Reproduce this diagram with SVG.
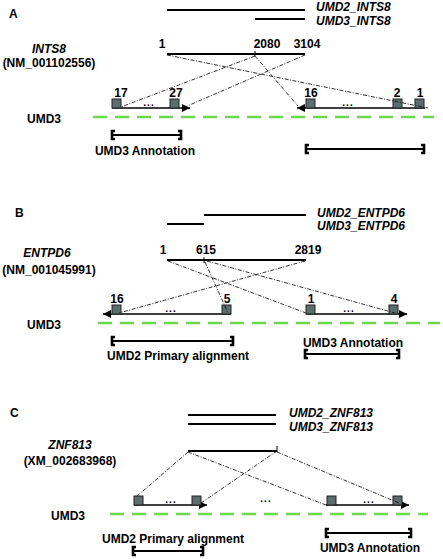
<svg xmlns="http://www.w3.org/2000/svg" width="443" height="559" viewBox="0 0 443 559">
<defs>
<marker id="ah" markerUnits="userSpaceOnUse" markerWidth="9" markerHeight="9" refX="8" refY="4.5" orient="auto">
<path d="M0,0.5 L8,4.5 L0,8.5 Z" fill="#000"/>
</marker>
</defs>
<style>
text{font-family:"Liberation Sans",Arial,sans-serif;font-size:12px;font-weight:bold;fill:#000}
.i{font-style:italic}
.m{text-anchor:middle}
.bar{stroke:#000;stroke-width:2.2;fill:none}
.gene{stroke:#000;stroke-width:2.2;fill:none}
.tick{stroke:#000;stroke-width:1;fill:none}
.ex{fill:#5d6c6c;stroke:#222;stroke-width:1}
.strand{stroke:#000;stroke-width:1.4;fill:none;marker-end:url(#ah)}
.chr{stroke:#6cd84c;stroke-width:2.6;stroke-dasharray:14 8;fill:none}
.dd{stroke:#1a1a1a;stroke-width:0.9;stroke-dasharray:4 1.5 1 1.5;fill:none}
.br{stroke:#000;stroke-width:1.8;fill:none}
.cap{stroke:#000;stroke-width:2.6;fill:none}
.dots{font-size:10px;font-weight:bold;letter-spacing:1px}
</style>

<!-- Panel A -->
<g id="panelA">
<text x="9" y="18">A</text>
<g id="A-alignments">
<line class="bar" x1="167" y1="10" x2="305" y2="10"/>
<line class="bar" x1="255" y1="19" x2="305" y2="19"/>
<text class="i" x="316" y="10.5">UMD2_INTS8</text>
<text class="i" x="316" y="24.5">UMD3_INTS8</text>
</g>
<g id="A-gene">
<text class="i m" x="49" y="52.5">INTS8</text>
<text class="m" x="49" y="67">(NM_001102556)</text>
<text class="m" x="162" y="48">1</text>
<text class="m" x="267" y="48">2080</text>
<text class="m" x="307" y="48">3104</text>
<line class="gene" x1="167" y1="54" x2="305" y2="54"/>
<line class="tick" x1="255" y1="51" x2="255" y2="56"/>
</g>
<g id="A-exons-left">
<line class="strand" x1="112" y1="108" x2="190" y2="108"/>
<rect class="ex" x="112" y="99" width="9" height="9"/>
<rect class="ex" x="170" y="99" width="9" height="9"/>
<text class="m" x="121" y="97">17</text>
<text class="m" x="176" y="97">27</text>
<text class="dots m" x="149" y="106">...</text>
</g>
<g id="A-exons-right">
<line class="strand" x1="425" y1="108" x2="297" y2="108"/>
<rect class="ex" x="306" y="99" width="9" height="9"/>
<rect class="ex" x="393" y="99" width="9" height="9"/>
<rect class="ex" x="415" y="99" width="9" height="9"/>
<text class="m" x="311" y="97">16</text>
<text class="m" x="397" y="97">2</text>
<text class="m" x="420" y="97">1</text>
<text class="dots m" x="348" y="106">...</text>
</g>
<g id="A-chr">
<text x="27" y="123">UMD3</text>
<line class="chr" x1="93" y1="117" x2="434" y2="117"/>
</g>
<g id="A-annot-left">
<line class="br" x1="112" y1="135" x2="181" y2="135"/>
<path class="cap" d="M115,131 H112 V139 H115 M178,131 H181 V139 H178"/>
<text class="m" x="145" y="155">UMD3 Annotation</text>
</g>
<g id="A-annot-right">
<line class="br" x1="306" y1="149" x2="424" y2="149"/>
<path class="cap" d="M309,145 H306 V153 H309 M421,145 H424 V153 H421"/>
</g>
</g>

<!-- Panel B -->
<g id="panelB">
<text x="15" y="217">B</text>
<g id="B-alignments">
<line class="bar" x1="204" y1="215" x2="306" y2="215"/>
<line class="bar" x1="167" y1="224" x2="204" y2="224"/>
<text class="i" x="317" y="217">UMD2_ENTPD6</text>
<text class="i" x="317" y="230">UMD3_ENTPD6</text>
</g>
<g id="B-gene">
<text class="i m" x="47" y="257">ENTPD6</text>
<text class="m" x="49" y="274">(NM_001045991)</text>
<text class="m" x="163" y="254">1</text>
<text class="m" x="206" y="254">615</text>
<text class="m" x="308" y="254">2819</text>
<line class="gene" x1="167" y1="260" x2="306" y2="260"/>
<line class="tick" x1="204" y1="257" x2="204" y2="263"/>
</g>
<g id="B-exons-left">
<line class="strand" x1="231" y1="314" x2="103" y2="314"/>
<rect class="ex" x="112" y="305" width="9" height="9"/>
<rect class="ex" x="222" y="305" width="9" height="9"/>
<text class="m" x="117" y="303">16</text>
<text class="m" x="227" y="303">5</text>
<text class="dots m" x="171" y="312">...</text>
</g>
<g id="B-exons-right">
<line class="strand" x1="306" y1="314" x2="407" y2="314"/>
<rect class="ex" x="306" y="305" width="9" height="9"/>
<rect class="ex" x="389" y="305" width="9" height="9"/>
<text class="m" x="311" y="303">1</text>
<text class="m" x="394" y="303">4</text>
<text class="dots m" x="349" y="312">...</text>
</g>
<g id="B-chr">
<text x="27" y="329">UMD3</text>
<line class="chr" x1="98" y1="323" x2="440" y2="323"/>
</g>
<g id="B-annot-left">
<line class="br" x1="112" y1="341" x2="233" y2="341"/>
<path class="cap" d="M115,337 H112 V345 H115 M230,337 H233 V345 H230"/>
<text class="m" x="178" y="360">UMD2 Primary alignment</text>
</g>
<g id="B-annot-right">
<text class="m" x="353" y="347">UMD3 Annotation</text>
<line class="br" x1="305" y1="354" x2="399" y2="354"/>
<path class="cap" d="M308,350 H305 V358 H308 M396,350 H399 V358 H396"/>
</g>
</g>

<!-- Panel C -->
<g id="panelC">
<text x="10" y="417">C</text>
<g id="C-alignments">
<line class="bar" x1="188" y1="415" x2="276" y2="415"/>
<line class="bar" x1="188" y1="424" x2="276" y2="424"/>
<text class="i" x="289" y="417">UMD2_ZNF813</text>
<text class="i" x="289" y="431">UMD3_ZNF813</text>
</g>
<g id="C-gene">
<text class="i m" x="70" y="449">ZNF813</text>
<text class="m" x="70" y="465">(XM_002683968)</text>
<line class="gene" x1="188" y1="451" x2="277" y2="451"/>
<line class="tick" x1="277" y1="446" x2="277" y2="452"/>
</g>
<g id="C-exons-left">
<line class="strand" x1="134" y1="505" x2="207" y2="505"/>
<rect class="ex" x="134" y="496" width="9" height="9"/>
<rect class="ex" x="192" y="496" width="9" height="9"/>
<text class="dots m" x="171" y="503">...</text>
</g>
<text class="dots m" x="266" y="502">...</text>
<g id="C-exons-right">
<line class="strand" x1="326" y1="505" x2="409" y2="505"/>
<rect class="ex" x="327" y="496" width="9" height="9"/>
<rect class="ex" x="393" y="496" width="9" height="9"/>
<text class="dots m" x="369" y="503">...</text>
</g>
<g id="C-chr">
<text x="51" y="520">UMD3</text>
<line class="chr" x1="110" y1="514" x2="428" y2="514"/>
</g>
<g id="C-annot-right">
<line class="br" x1="326" y1="533" x2="411" y2="533"/>
<path class="cap" d="M329,529 H326 V537 H329 M408,529 H411 V537 H408"/>
<text class="m" x="370" y="552">UMD3 Annotation</text>
</g>
<g id="C-annot-left">
<text class="m" x="173" y="543">UMD2 Primary alignment</text>
<line class="br" x1="133" y1="551" x2="203" y2="551"/>
<path class="cap" d="M136,547 H133 V555 H136 M200,547 H203 V555 H200"/>
</g>
</g>

<!-- Connectors -->
<g id="connectors">
<line class="dd" x1="167" y1="55" x2="428" y2="108"/>
<line class="dd" x1="255" y1="56" x2="121" y2="107"/>
<line class="dd" x1="255" y1="56" x2="298" y2="106"/>
<line class="dd" x1="305" y1="55" x2="185" y2="107"/>

<line class="dd" x1="168" y1="261" x2="306" y2="313"/>
<line class="dd" x1="205" y1="262" x2="228" y2="313"/>
<line class="dd" x1="305" y1="261" x2="119" y2="313"/>
<line class="dd" x1="207" y1="261" x2="395" y2="313"/>

<line class="dd" x1="188" y1="452" x2="136" y2="497"/>
<line class="dd" x1="188" y1="452" x2="326" y2="505"/>
<line class="dd" x1="277" y1="451" x2="201" y2="503"/>
<line class="dd" x1="277" y1="452" x2="399" y2="503"/>
</g>
</svg>
